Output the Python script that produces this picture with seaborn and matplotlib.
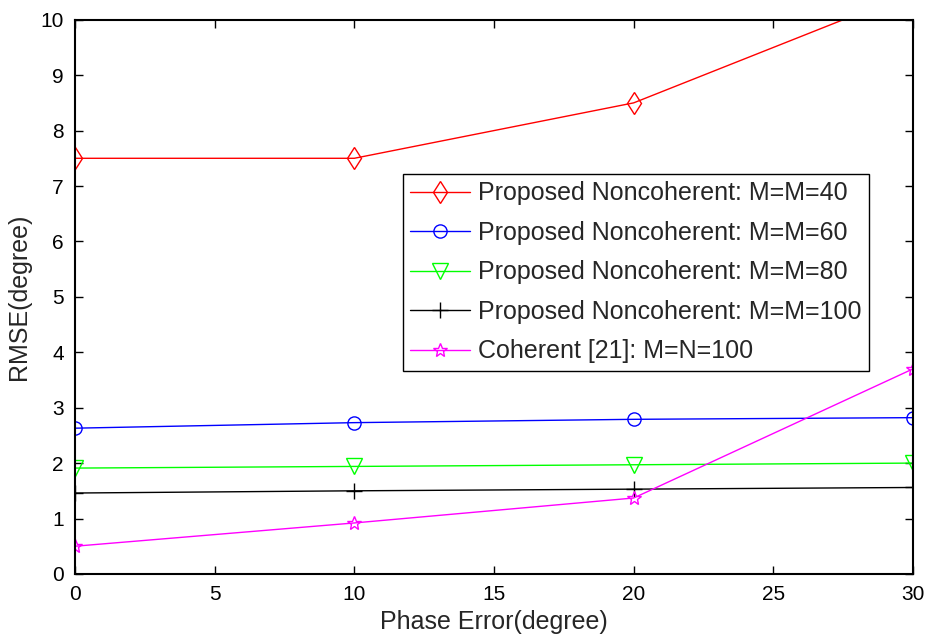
import matplotlib
matplotlib.use('Agg')
import matplotlib.pyplot as plt
import seaborn as sns

# values
phase_error = [0, 10, 20, 30]
rmse_m40 = [7.5, 7.5, 8.5, 10.5]
rmse_m60 = [2.63, 2.73, 2.79, 2.82]
rmse_m80 = [1.91, 1.94, 1.97, 2.0]
rmse_m100 = [1.46, 1.5, 1.53, 1.56]
rmse_coherent = [0.5, 0.92, 1.37, 3.7]

labels = ['Proposed Noncoherent: M=M=40',
          'Proposed Noncoherent: M=M=60',
          'Proposed Noncoherent: M=M=80',
          'Proposed Noncoherent: M=M=100',
          'Coherent [21]: M=N=100']
colors = ['#ff0000', '#0000ff', '#00ff00', '#000000', '#ff00ff']
markers = ['d', 'o', 'v', '+', '*']
sizes = [11.5, 9.5, 11, 11, 10]

sns.set_style('ticks')
plt.rcParams['font.family'] = ['Liberation Sans', 'DejaVu Sans']

fig = plt.figure(figsize=(9.25, 6.37), dpi=100)
ax = fig.add_axes([0.081, 0.099, 0.906, 0.870])

series = [rmse_m40, rmse_m60, rmse_m80, rmse_m100, rmse_coherent]
for vals, lab, c, m, s in zip(series, labels, colors, markers, sizes):
    sns.lineplot(x=phase_error, y=vals, ax=ax, color=c, marker=m, label=lab,
                 markersize=s, markerfacecolor='none',
                 markeredgecolor=c, markeredgewidth=1.0, linewidth=1.0)

ax.set_xlim(0, 30)
ax.set_ylim(0, 10)
ax.set_xticks(range(0, 31, 5))
ax.set_yticks(range(0, 11, 1))
ax.tick_params(direction='in', length=6, width=1, top=True, right=True,
               labelsize=15, colors='black', pad=8)
for sp in ax.spines.values():
    sp.set_visible(True)
    sp.set_color('black')
    sp.set_linewidth(1.5)

ax.set_xlabel('Phase Error(degree)', fontsize=18, labelpad=4)
ax.set_ylabel('RMSE(degree)', fontsize=18, labelpad=7)

leg = ax.legend(loc='upper left', bbox_to_anchor=(0.391, 0.722),
                borderaxespad=0, fontsize=18, handlelength=2.4,
                labelspacing=0.62, fancybox=False, framealpha=1,
                edgecolor='black', borderpad=0.3, handletextpad=0.3)
leg.get_frame().set_linewidth(1.0)

fig.savefig('out.png', dpi=100)
